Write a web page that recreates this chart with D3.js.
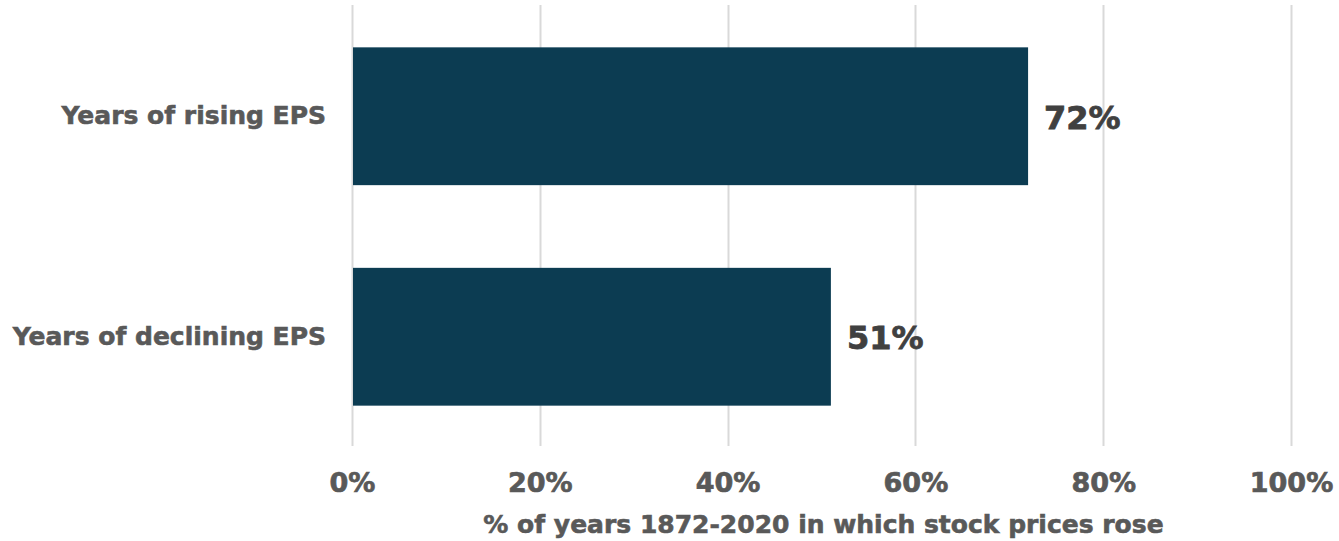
<!DOCTYPE html>
<html>
<head>
<meta charset="utf-8">
<script src="https://cdn.jsdelivr.net/npm/d3@7"></script>
<style>
  html, body { margin: 0; padding: 0; background: #fff; }
  svg text { font-family: "DejaVu Sans", Verdana, sans-serif; font-weight: bold; }
</style>
</head>
<body>
<svg id="chart" width="1339" height="541"></svg>
<script>
// Share of years (1872-2020) in which stock prices rose, split by EPS direction
const categories = ["Years of rising EPS", "Years of declining EPS"];
const values = [0.72, 0.51];
const valueLabels = ["72%", "51%"];
const tickValues = [0, 0.2, 0.4, 0.6, 0.8, 1.0];
const axisTitle = "% of years 1872-2020 in which stock prices rose";

const svg = d3.select("#chart");
const plot = { left: 352, right: 1291, top: 5, bottom: 446 };

const x = d3.scaleLinear().domain([0, 1]).range([plot.left, plot.right]);
const y = d3.scaleBand().domain(categories).range([plot.top, plot.bottom]).paddingInner(0.375).paddingOuter(0.1875);

// heavier bold text: fill plus thin matching stroke
function heavy(sel, color, w) {
  sel.attr("fill", color).attr("stroke", color).attr("stroke-width", w).attr("paint-order", "stroke");
}

// vertical gridlines
svg.append("g")
  .selectAll("line")
  .data(tickValues)
  .join("line")
  .attr("x1", d => Math.round(x(d)) + 0.5)
  .attr("x2", d => Math.round(x(d)) + 0.5)
  .attr("y1", plot.top)
  .attr("y2", plot.bottom)
  .attr("stroke", "#d9d9d9")
  .attr("stroke-width", 2);

// bars
svg.append("g")
  .selectAll("rect")
  .data(categories)
  .join("rect")
  .attr("x", x(0) + 1)
  .attr("y", d => y(d) + 1)
  .attr("width", (d, i) => x(values[i]) - x(0) - 1)
  .attr("height", y.bandwidth())
  .attr("fill", "#0c3c52");

// value labels
svg.append("g")
  .selectAll("text")
  .data(categories)
  .join("text")
  .attr("x", (d, i) => x(values[i]) + 16)
  .attr("y", d => y(d) + y.bandwidth() / 2 + 2)
  .attr("dy", "0.36em")
  .attr("font-size", 32)
  .text((d, i) => valueLabels[i])
  .call(heavy, "#404040", 0.8);

// category labels
const yAxis = d3.axisLeft(y).tickSize(0).tickPadding(26);
const gy = svg.append("g").attr("transform", `translate(${plot.left},1)`).call(yAxis);
gy.select(".domain").remove();
gy.selectAll("text")
  .attr("font-size", 25)
  .style("font-family", "'DejaVu Sans', Verdana, sans-serif")
  .style("font-weight", "bold")
  .call(heavy, "#595959", 0.6);

// x tick labels
const xAxis = d3.axisBottom(x).tickValues(tickValues).tickFormat(d3.format(".0%")).tickSize(0).tickPadding(27);
const gx = svg.append("g").attr("transform", `translate(0,${plot.bottom})`).call(xAxis);
gx.select(".domain").remove();
gx.selectAll("text")
  .attr("font-size", 27)
  .style("font-family", "'DejaVu Sans', Verdana, sans-serif")
  .style("font-weight", "bold")
  .call(heavy, "#595959", 0.7);

// axis title
svg.append("text")
  .attr("x", (plot.left + plot.right) / 2 + 2)
  .attr("y", 524)
  .attr("dy", "0.36em")
  .attr("text-anchor", "middle")
  .attr("font-size", 25)
  .text(axisTitle)
  .call(heavy, "#595959", 0.6);
</script>
</body>
</html>
